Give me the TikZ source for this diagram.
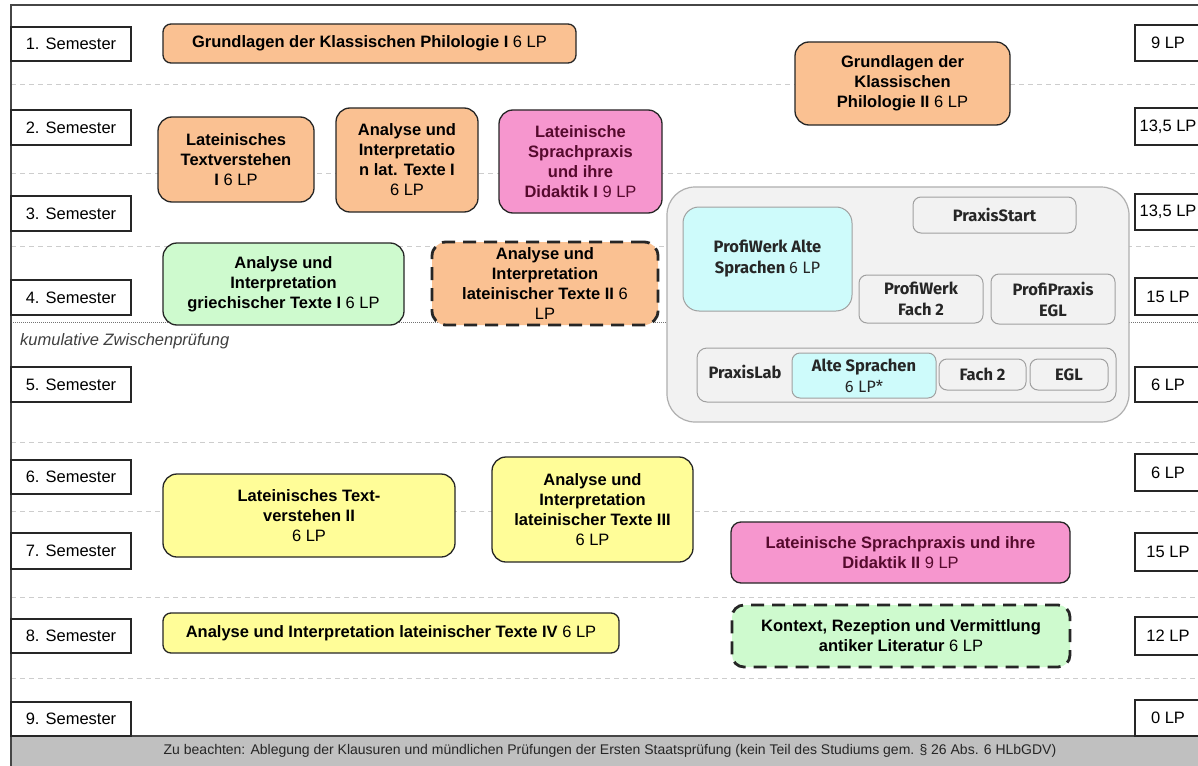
\documentclass[tikz,border=0pt]{standalone}
\usepackage{fontspec}
\setmainfont{Liberation Sans}
\newfontfamily\praxfont{Fira Sans}
\definecolor{orangeF}{RGB}{250,193,146}
\definecolor{pinkF}{RGB}{246,150,206}
\definecolor{greenF}{RGB}{206,250,206}
\definecolor{yellowF}{RGB}{255,253,152}
\definecolor{cyanF}{RGB}{206,251,251}
\definecolor{contF}{RGB}{242,242,242}
\definecolor{contD}{RGB}{175,175,175}
\definecolor{innerD}{RGB}{160,160,160}
\definecolor{gridC}{RGB}{205,205,205}
\definecolor{bandF}{RGB}{192,192,192}
\definecolor{maroonT}{RGB}{85,10,45}
\definecolor{frameC}{RGB}{70,70,70}
\newcommand{\lpx}[1]{{\mdseries #1}}
\newcommand{\mbx}[7][]{%
  \pgfmathsetmacro{\bw}{#5-#3}\pgfmathsetmacro{\bh}{#6-#4}%
  \node[#1, anchor=center, minimum width=\bw pt, minimum height=\bh pt]
    (#2) at ({(#3+#5)/2},{(#4+#6)/2}) {#7};}
\begin{document}
\begin{tikzpicture}[x=1pt,y=-1pt,
  semb/.style={draw=black!85, line width=1.3pt, fill=white, inner sep=0pt,
    font=\fontsize{16.5}{20}\selectfont},
  modbox/.style={draw=black!85, line width=1.3pt, rounded corners=11pt, align=center,
    inner sep=2pt, font=\fontsize{16.5}{20}\selectfont\bfseries},
  dashbox/.style={modbox, line width=2.8pt, dash pattern=on 13pt off 8pt},
  orangebox/.style={modbox, fill=orangeF},
  pinkbox/.style={modbox, fill=pinkF, text=maroonT},
  greenbox/.style={modbox, fill=greenF},
  yellowbox/.style={modbox, fill=yellowF},
  container/.style={draw=contD, line width=1.2pt, fill=contF, rounded corners=28pt},
  pbox/.style={draw=innerD, line width=1pt, fill=contF, rounded corners=8pt, align=center,
    inner sep=1pt, text=black!85, font={\praxfont\fontsize{16.5}{21}\selectfont\bfseries}},
  pcyan/.style={pbox, fill=cyanF, rounded corners=16pt},
  gridl/.style={draw=gridC, line width=1pt, dash pattern=on 5pt off 4pt},
  darkdot/.style={draw=black!55, line width=0.9pt, dash pattern=on 1pt off 1pt},
  bandbox/.style={fill=bandF, draw=frameC, line width=1.2pt, inner sep=0pt}
]
\useasboundingbox (0,0) rectangle (1198,765);
\clip (0,0) rectangle (1198,765);
\fill[white] (0,0) rectangle (1198,765);

% row separators
\foreach \yy in {85,173,246,442,511,597,678}
  \draw[gridl] (11,\yy) -- (1198,\yy);
\draw[darkdot] (11,322) -- (1198,322);

% frame
\draw[frameC, line width=1.4pt] (11,740) -- (11,5) -- (1205,5);

% bottom band
\mbx[bandbox]{band}{11}{736}{1215}{775}{}
\node[font=\fontsize{14}{16}\selectfont, text=black!85] (bandtxt) at (610,751)
  {Zu beachten: Ablegung der Klausuren und mündlichen Prüfungen der Ersten Staatsprüfung (kein Teil des Studiums gem. § 26 Abs. 6 HLbGDV)};

% semester boxes
\foreach \n/\ya/\yb in {1/27/61,2/110/145,3/196/231,4/280/315,5/367/402,6/460/494,7/533/569,8/619/653,9/702/736}
  {\mbx[semb]{sem\n}{11}{\ya}{131}{\yb}{\n. Semester}}

% LP boxes
\foreach \n/\ya/\yb/\t in {1/25/61/9 LP,2/108/145/{13,5 LP},3/194/230/{13,5 LP},4/278/315/15 LP,5/367/402/6 LP,6/454/491/6 LP,7/533/571/15 LP,8/617/655/12 LP,9/700/736/0 LP}
  {\mbx[semb]{lp\n}{1135}{\ya}{1201}{\yb}{\t}}

% kumulative Zwischenpruefung
\node[anchor=west, inner sep=0pt, font=\itshape\fontsize{16.5}{19}\selectfont, text=black!75]
  (kum) at (20,341) {kumulative Zwischenprüfung};

% modules
\mbx[orangebox, rounded corners=8pt]{grund1}{163}{24}{576}{63}{Grundlagen der Klassischen Philologie I \lpx{6 LP}}
\mbx[orangebox, rounded corners=14pt]{grund2}{795}{42}{1010}{125}{Grundlagen der\\Klassischen\\Philologie II \lpx{6 LP}}
\mbx[orangebox, rounded corners=14pt]{ltv1}{158}{117}{314}{202}{Lateinisches\\Textverstehen\\I \lpx{6 LP}}
\mbx[orangebox, rounded corners=14pt]{ai1}{336}{108}{478}{212}{Analyse und\\Interpretatio\\n lat. Texte I\\\lpx{6 LP}}
\mbx[pinkbox, rounded corners=14pt]{lsp1}{499}{110}{662}{213}{Lateinische\\Sprachpraxis\\und ihre\\Didaktik I \lpx{9 LP}}
\mbx[greenbox, rounded corners=14pt]{griech}{163}{243}{404}{325}{Analyse und\\Interpretation\\griechischer Texte I \lpx{6 LP}}
\mbx[orangebox, dashbox, rounded corners=14pt]{ai2}{432}{242}{658}{325}{Analyse und\\Interpretation\\lateinischer Texte II \lpx{6}\\\lpx{LP}}
\mbx[yellowbox, rounded corners=14pt]{ltv2}{163}{474}{455}{557}{Lateinisches Text-\\verstehen II\\\lpx{6 LP}}
\mbx[yellowbox, rounded corners=14pt]{ai3}{492}{457}{693}{562}{Analyse und\\Interpretation\\lateinischer Texte III\\\lpx{6 LP}}
\mbx[pinkbox, rounded corners=10pt]{lsp2}{731}{522}{1070}{583}{Lateinische Sprachpraxis und ihre\\Didaktik II \lpx{9 LP}}
\mbx[yellowbox, rounded corners=8pt]{ai4}{163}{613}{619}{653}{Analyse und Interpretation lateinischer Texte IV \lpx{6 LP}}
\mbx[greenbox, dashbox, rounded corners=12pt]{kontext}{732}{605}{1070}{667}{Kontext, Rezeption und Vermittlung\\antiker Literatur \lpx{6 LP}}

% Praxis container
\mbx[container]{praxis}{667}{187}{1129}{422}{}
\mbx[pcyan]{pwas}{683}{207}{852}{311}{ProfiWerk Alte\\Sprachen \lpx{6 LP}}
\mbx[pbox]{pstart}{913}{197}{1076}{233}{PraxisStart}
\mbx[pbox]{pwf2}{859}{275}{983}{323}{ProfiWerk\\Fach 2}
\mbx[pbox]{ppegl}{991}{274}{1115}{324}{ProfiPraxis\\EGL}
\mbx[pbox, rounded corners=10pt]{plab}{697}{348}{1116}{402}{}
\node[pbox, draw=none, fill=none, anchor=center] (plabtxt) at (745,372) {PraxisLab};
\mbx[pcyan, rounded corners=8pt]{plas}{792}{353}{936}{398}{Alte Sprachen\\\lpx{6 LP*}}
\mbx[pbox]{plf2}{939}{359}{1026}{390}{Fach 2}
\mbx[pbox]{plegl}{1030}{359}{1108}{390}{EGL}
\end{tikzpicture}
\end{document}
